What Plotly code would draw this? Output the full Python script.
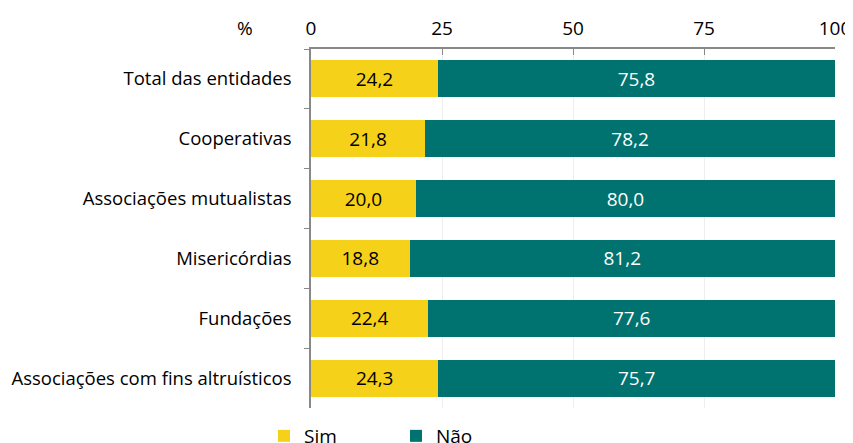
import plotly.graph_objects as go

categorias = [
    "Total das entidades",
    "Cooperativas",
    "Associações mutualistas",
    "Misericórdias",
    "Fundações",
    "Associações com fins altruísticos",
]
sim = [24.2, 21.8, 20.0, 18.8, 22.4, 24.3]
nao = [75.8, 78.2, 80.0, 81.2, 77.6, 75.7]
ticks_x = [0, 25, 50, 75, 100]

FONTE = "Open Sans, sans-serif"
# a página tem margem de 8 px no body
OFF = 8
W, H = 853 - OFF, 443 - OFF
L, R, T = 311 - OFF, 18, 49 - OFF
B = H - (408 - OFF)
PW, PH = W - L - R, H - T - B


def fmt(v):
    return f"{v:.1f}".replace(".", ",")


fig = go.Figure()
fig.add_trace(go.Bar(
    y=categorias, x=sim, name="Sim", orientation="h",
    marker=dict(color="#F6D11A", line=dict(width=0)),
    text=[fmt(v) for v in sim], textposition="inside",
    insidetextanchor="middle",
    textfont=dict(color="black", size=19, family=FONTE),
))
fig.add_trace(go.Bar(
    y=categorias, x=nao, name="Não", orientation="h",
    marker=dict(color="#007270", line=dict(width=0)),
    text=[fmt(v) for v in nao], textposition="inside",
    insidetextanchor="middle",
    textfont=dict(color="white", size=19, family=FONTE),
))

fig.update_layout(
    barmode="stack",
    bargap=0.38,
    width=W, height=H,
    margin=dict(l=L, r=R, t=T, b=B),
    plot_bgcolor="white", paper_bgcolor="white",
    font=dict(family=FONTE, size=19, color="black"),
    uniformtext=dict(minsize=19, mode="show"),
    legend=dict(
        orientation="h", xref="container", yref="container",
        x=(264 - OFF) / W, xanchor="left",
        y=1 - (436 - OFF) / H, yanchor="middle",
        font=dict(size=19), entrywidth=87, itemwidth=30,
        traceorder="normal",
    ),
    annotations=[dict(
        text="%", xref="paper", yref="paper",
        x=(245 - 311) / PW, y=1 + (49 - 28) / PH,
        xanchor="center", yanchor="middle",
        showarrow=False, font=dict(size=19),
    )],
)

fig.update_xaxes(
    side="top", range=[0, 100], tickvals=ticks_x, automargin=False,
    showline=True, linecolor="#888888", linewidth=1.5,
    ticks="inside", ticklen=6, tickcolor="#888888",
    showgrid=True, gridcolor="#EEEEEE", zeroline=False,
    tickfont=dict(size=19), ticklabelstandoff=5, ticklabeloverflow="allow",
)
fig.update_yaxes(
    autorange="reversed", automargin=False,
    showline=True, linecolor="#888888", linewidth=1.5,
    ticks="outside", tickson="boundaries", ticklen=5, tickcolor="#888888",
    ticklabelstandoff=14, tickfont=dict(size=18.5),
)

fig.write_html("out.html")
